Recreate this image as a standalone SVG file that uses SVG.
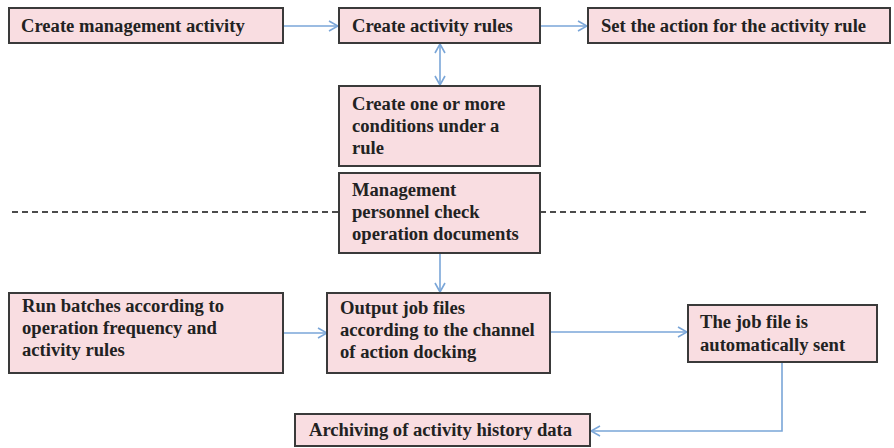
<svg xmlns="http://www.w3.org/2000/svg" width="894" height="448" viewBox="0 0 894 448">
<defs>
<style>
.box{fill:#f9dde1;stroke:#3a3a3a;stroke-width:2}
.t{font-family:"Liberation Serif","Times New Roman",serif;font-weight:bold;font-size:18.6px;fill:#222}
.c{fill:none;stroke:#7aa6d8;stroke-width:1.6}
.d{fill:none;stroke:#111;stroke-width:1.3;stroke-dasharray:6 4}
</style>
<marker id="ah" viewBox="0 0 12 12" refX="11" refY="6" markerWidth="12" markerHeight="12" markerUnits="userSpaceOnUse" orient="auto-start-reverse">
<path d="M2,1 L11,6 L2,11" fill="none" stroke="#7aa6d8" stroke-width="1.6"/>
</marker>
</defs>
<rect width="894" height="448" fill="#fff"/>
<g id="connectors">
<line class="d" x1="12" y1="212" x2="339" y2="212"/>
<line class="d" x1="540" y1="212" x2="866" y2="212"/>
<line class="c" x1="283" y1="26" x2="338" y2="26" marker-end="url(#ah)"/>
<line class="c" x1="540" y1="26" x2="587" y2="26" marker-end="url(#ah)"/>
<line class="c" x1="440" y1="44" x2="440" y2="85" marker-start="url(#ah)" marker-end="url(#ah)"/>
<line class="c" x1="440" y1="253" x2="440" y2="292" marker-end="url(#ah)"/>
<line class="c" x1="283" y1="333" x2="327" y2="333" marker-end="url(#ah)"/>
<line class="c" x1="550" y1="332" x2="687" y2="332" marker-end="url(#ah)"/>
<polyline class="c" points="782,362 782,431 591,431" marker-end="url(#ah)"/>
</g>
<g id="n1"><rect class="box" x="9" y="8" width="274" height="35"/><text class="t" x="21" y="32">Create management activity</text></g>
<g id="n2"><rect class="box" x="339" y="8" width="201" height="35"/><text class="t" x="352" y="32">Create activity rules</text></g>
<g id="n3"><rect class="box" x="588" y="8" width="302" height="35"/><text class="t" x="601" y="32">Set the action for the activity rule</text></g>
<g id="n4"><rect class="box" x="339" y="86" width="201" height="80"/><text class="t" x="352" y="110">Create one or more</text><text class="t" x="352" y="132">conditions under a</text><text class="t" x="352" y="154">rule</text></g>
<g id="n5"><rect class="box" x="339" y="173" width="201" height="80"/><text class="t" x="352" y="196">Management</text><text class="t" x="352" y="218">personnel check</text><text class="t" x="352" y="240">operation documents</text></g>
<g id="n6"><rect class="box" x="9" y="293" width="274" height="80"/><text class="t" x="22" y="312">Run batches according to</text><text class="t" x="22" y="334">operation frequency and</text><text class="t" x="22" y="356">activity rules</text></g>
<g id="n7"><rect class="box" x="327" y="293" width="223" height="80"/><text class="t" x="340" y="314">Output job files</text><text class="t" x="340" y="336">according to the channel</text><text class="t" x="340" y="358">of action docking</text></g>
<g id="n8"><rect class="box" x="688" y="305" width="189" height="57"/><text class="t" x="700" y="328">The job file is</text><text class="t" x="700" y="351">automatically sent</text></g>
<g id="n9"><rect class="box" x="295" y="414" width="295" height="32"/><text class="t" x="309" y="436">Archiving of activity history data</text></g>
</svg>
